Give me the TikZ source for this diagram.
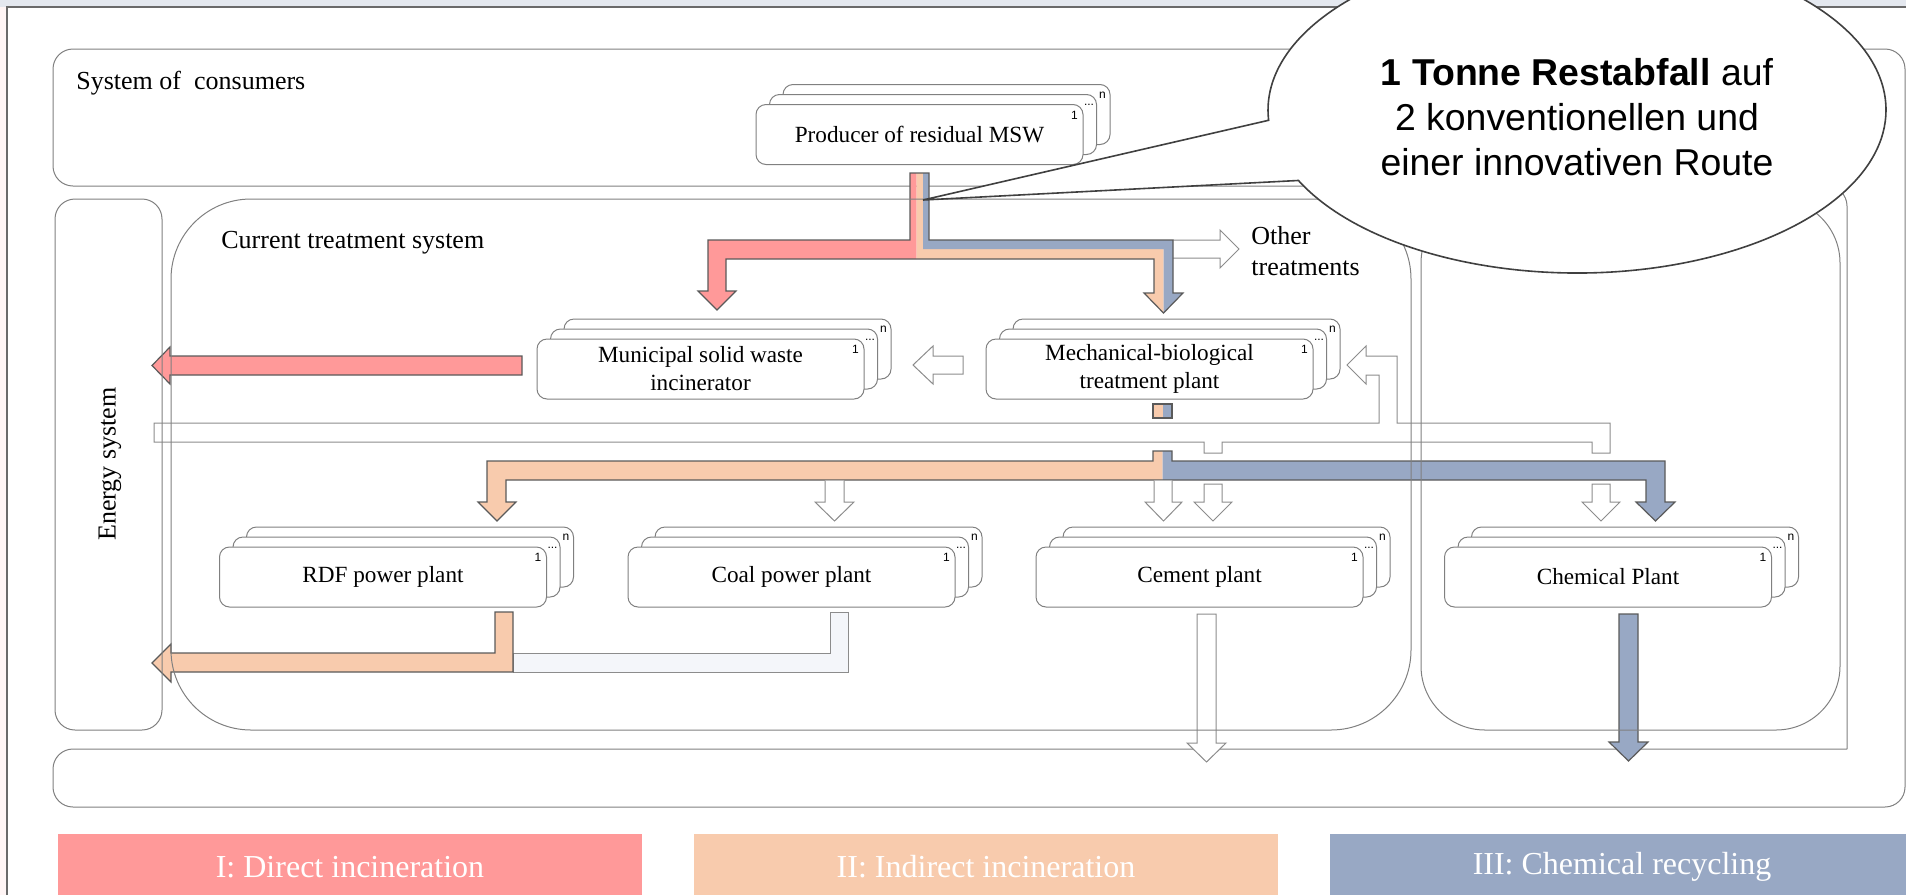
\documentclass[tikz,border=0pt]{standalone}
\usepackage{fontspec}
\setmainfont{Liberation Serif}
\newfontfamily\calloutfont{Liberation Sans}
\usetikzlibrary{shapes.callouts,shadows}

\definecolor{redflow}{HTML}{FF9999}
\definecolor{orangeflow}{HTML}{F8CBAD}
\definecolor{blueflow}{HTML}{98A8C4}
\definecolor{coalflow}{HTML}{F4F6FA}
\definecolor{arrowedge}{HTML}{5A5A5A}
\definecolor{hollowedge}{HTML}{8C8C8C}
\definecolor{boxedge}{HTML}{808080}
\definecolor{noteedge}{HTML}{404040}
\definecolor{chrome}{HTML}{E4E8EF}
\definecolor{slideedge}{HTML}{6A6A6A}

\tikzset{
  plantbox/.style={draw=boxedge, fill=white, line width=0.5pt, rounded corners=5pt,
    minimum width=163.5pt, minimum height=30pt, inner sep=1pt, align=center,
    font=\fontsize{11.6}{14}\selectfont,
    double copy shadow={shadow xshift=6.75pt, shadow yshift=5pt}},
  idx/.style={font=\calloutfont\fontsize{6}{7}\selectfont, inner sep=0pt},
  flowedge/.style={draw=arrowedge, line width=0.6pt, line join=miter},
  hollow/.style={draw=hollowedge, fill=white, line width=0.5pt, line join=miter},
  frame/.style={draw=boxedge, line width=0.5pt},
  syslabel/.style={font=\fontsize{13}{15.5}\selectfont, inner sep=0pt},
  legend/.style={text=white, font=\fontsize{16}{19}\selectfont, inner sep=0pt}
}

\begin{document}
\begin{tikzpicture}[x=0.5pt, y=-0.5pt]
    \useasboundingbox (0,0) rectangle (1906,895);
    % Slide edge
    \fill[chrome] (0,0) rectangle (1906,7);
    \fill[red!4] (0,7) rectangle (7,895);
    \draw[slideedge, line width=0.8pt] (7,895) -- (7,7) -- (1906,7);

    % System of consumers (wraps round the right and the bottom)
    \draw[frame, rounded corners=10pt] (1847,749) -- (1847,186) -- (53,186) -- (53,49) -- (1905,49)
        -- (1905,807) -- (53,807) -- (53,749) -- (1847,749);
    \node[syslabel, anchor=west] (consumers) at (76,83) {System of~ consumers};

    % Residual waste split into the three routes
    \draw[hollow] (1173,240) -- (1220,240) -- (1220,230) -- (1239,249) -- (1220,268) -- (1220,258) -- (1173,258);
    \fill[redflow] (910,173) -- (916.5,173) -- (916.5,259) -- (726,259) -- (726,291) -- (736,291) -- (717,310)
        -- (698,291) -- (708,291) -- (708,240) -- (910,240) -- cycle;
    \fill[orangeflow] (916.5,173) -- (923,173) -- (923,249) -- (1163.5,249) -- (1163.5,313) -- (1144,293)
        -- (1154,293) -- (1154,259) -- (916.5,259) -- cycle;
    \fill[blueflow] (923,173) -- (929,173) -- (929,240) -- (1173,240) -- (1173,293) -- (1183,293)
        -- (1163.5,313) -- (1163.5,249) -- (923,249) -- cycle;
    \draw[flowedge] (910,173) -- (929,173) -- (929,240) -- (1173,240) -- (1173,293) -- (1183,293) -- (1163.5,313)
        -- (1144,293) -- (1154,293) -- (1154,259) -- (726,259) -- (726,291) -- (736,291) -- (717,310)
        -- (698,291) -- (708,291) -- (708,240) -- (910,240) -- cycle;
    \node[syslabel, anchor=west, align=left] (other) at (1251,251.5) {Other\\treatments};

    % Incinerator to energy system, MBT to incinerator
    \draw[flowedge, fill=redflow] (522,356) -- (170,356) -- (170,347) -- (152,365.5) -- (170,384) -- (170,375) -- (522,375) -- cycle;
    \draw[hollow] (963,356) -- (933,356) -- (933,346) -- (913,365) -- (933,384) -- (933,374) -- (963,374) -- cycle;

    % Hollow bus from the energy system
    \draw[hollow] (154,423) -- (1379,423) -- (1379,375) -- (1366,375) -- (1366,384) -- (1347,365) -- (1366,346)
        -- (1366,356) -- (1397,356) -- (1397,423) -- (1610,423) -- (1610,453) -- (1592,453) -- (1592,442)
        -- (1222,442) -- (1222,453) -- (1204,453) -- (1204,442) -- (154,442) -- cycle;

    % MBT output
    \fill[orangeflow] (1153,404) rectangle (1162.5,418);
    \fill[blueflow] (1162.5,404) rectangle (1172,418);
    \draw[flowedge] (1153,404) rectangle (1172,418);
    \fill[orangeflow] (1153,451) -- (1162.5,451) -- (1162.5,480) -- (506,480) -- (506,502) -- (516,502) -- (497,521)
        -- (478,502) -- (487,502) -- (487,461) -- (1153,461) -- cycle;
    \fill[blueflow] (1162.5,451) -- (1172,451) -- (1172,461) -- (1665,461) -- (1665,502) -- (1675,502)
        -- (1655.5,521) -- (1636,502) -- (1646,502) -- (1646,480) -- (1162.5,480) -- cycle;
    \draw[flowedge] (1153,451) -- (1172,451) -- (1172,461) -- (1665,461) -- (1665,502) -- (1675,502) -- (1655.5,521)
        -- (1636,502) -- (1646,502) -- (1646,480) -- (506,480) -- (506,502) -- (516,502) -- (497,521)
        -- (478,502) -- (487,502) -- (487,461) -- (1153,461) -- cycle;

    % Unused inputs
    \draw[hollow] (825,480.5) -- (825,502) -- (815,502) -- (834.5,521) -- (854,502) -- (844,502) -- (844,480.5);
    \draw[hollow] (1154,480.5) -- (1154,502) -- (1145,502) -- (1163.5,521) -- (1182,502) -- (1172,502) -- (1172,480.5);
    \draw[hollow] (1204,484) -- (1204,502) -- (1194,502) -- (1213,521) -- (1232,502) -- (1222,502) -- (1222,484) -- cycle;
    \draw[hollow] (1592,484) -- (1592,502) -- (1582,502) -- (1601,521) -- (1620,502) -- (1610,502) -- (1610,484) -- cycle;

    % Plant outputs
    \draw[hollow] (1197,614) -- (1197,743) -- (1187,743) -- (1206.5,762) -- (1226,743) -- (1216,743) -- (1216,614) -- cycle;
    \draw[flowedge, fill=blueflow] (1619,614) -- (1619,742) -- (1609,742) -- (1628.5,761) -- (1648,742) -- (1638,742) -- (1638,614) -- cycle;
    \draw[hollow, fill=coalflow] (830,612) -- (848,612) -- (848,672) -- (513,672) -- (513,653) -- (830,653) -- cycle;
    \draw[flowedge, fill=orangeflow] (495,612) -- (513,612) -- (513,672) -- (171,672) -- (171,682) -- (152,663)
        -- (171,644) -- (171,653) -- (495,653) -- cycle;

    % Plants
    \node[plantbox] (prod) at (919.5,134.5) {Producer of residual MSW};
    \node[plantbox] (msw) at (700.5,369) {Municipal solid waste\\incinerator};
    \node[plantbox] (mbt) at (1149.5,369) {Mechanical-biological\\treatment plant};
    \node[plantbox] (rdf) at (383,577) {RDF power plant};
    \node[plantbox] (coal) at (791.5,577) {Coal power plant};
    \node[plantbox] (cement) at (1199.5,577) {Cement plant};
    \node[plantbox] (chem) at (1608,577) {Chemical Plant};
    \foreach \p in {prod,msw,mbt,rdf,coal,cement,chem}{
        \node[idx] at ([shift={(-4.5pt,-5.5pt)}]\p.north east) {1};
        \node[idx] at ([shift={(2.75pt,-0.5pt)}]\p.north east) {...};
        \node[idx] at ([shift={(9.5pt,4.5pt)}]\p.north east) {n};
    }

    % Energy system, treatment systems
    \draw[frame, rounded corners=10pt] (55,199) rectangle (162,730);
    \node[syslabel, rotate=90] (energy) at (110,464) {Energy system};
    \draw[frame, rounded corners=40pt] (171,199) rectangle (1411,730);
    \node[syslabel, anchor=west] (current) at (221,243) {Current treatment system};
    \draw[frame, rounded corners=32pt] (1421,199) rectangle (1840,730);

    % Callout
    \node[ellipse callout, draw=noteedge, line width=0.8pt, fill=white, minimum width=309pt, minimum height=163pt,
        inner sep=0pt, callout absolute pointer={(923,200)}, callout pointer arc=22] (note) at (1577,110) {};
    \node[align=center, inner sep=0pt, font=\calloutfont\fontsize{18.7}{22.5}\selectfont] (notetext) at (1577,117)
        {\textbf{1 Tonne Restabfall} auf\\2 konventionellen und\\einer innovativen Route};

    % Routes
    \fill[redflow] (58,834) rectangle (642,895);
    \node[legend] (route1) at (350,867) {I: Direct incineration};
    \fill[orangeflow] (694,834) rectangle (1278,895);
    \node[legend] (route2) at (986,867) {II: Indirect incineration};
    \fill[blueflow] (1330,834) rectangle (1906,895);
    \node[legend] (route3) at (1622,867) {III: Chemical recycling};
\end{tikzpicture}
\end{document}
